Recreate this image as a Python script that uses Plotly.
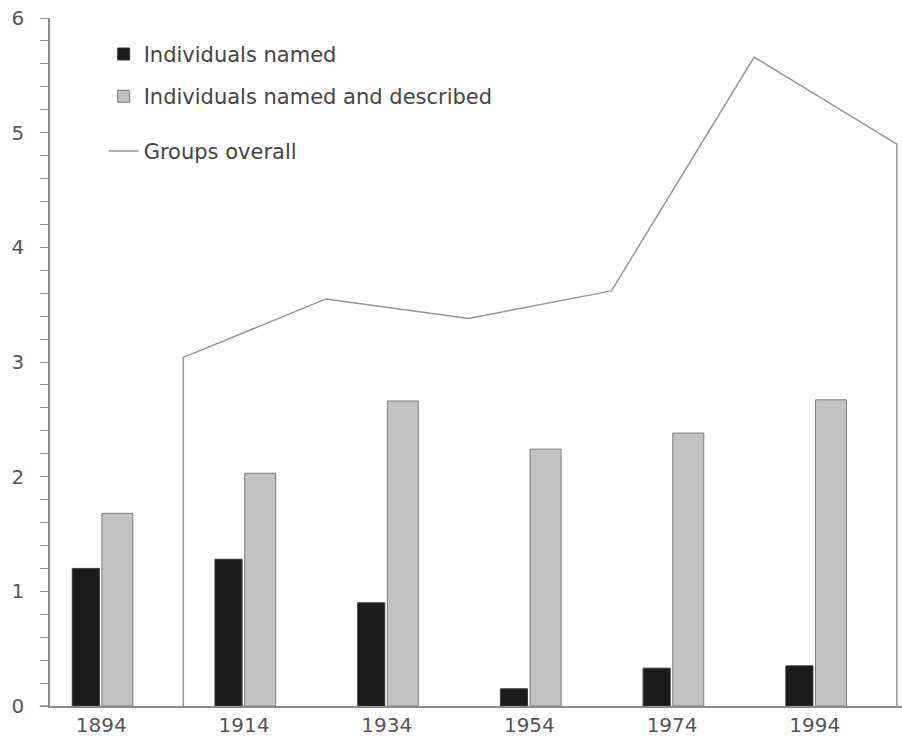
import plotly.graph_objects as go

years = ["1894", "1914", "1934", "1954", "1974", "1994"]
individuals_named = [1.20, 1.28, 0.90, 0.15, 0.33, 0.35]
named_and_described = [1.68, 2.03, 2.66, 2.24, 2.38, 2.67]
groups_overall = [3.04, 3.55, 3.38, 3.62, 5.66, 4.90]

idx = list(range(len(years)))
line_off = 0.575
line_x = [i + line_off for i in idx]
lx = [line_x[0]] + line_x + [line_x[-1]]
ly = [0] + groups_overall + [0]

FONT = "DejaVu Sans"
AX = "#8c8c8c"

fig = go.Figure()
fig.add_trace(go.Bar(
    x=idx, y=individuals_named, name="Individuals named",
    width=0.19, offset=-0.203,
    marker=dict(color="#1b1b1b", line=dict(color="#3a3a3a", width=1)),
    legend="legend", legendgroup="a",
))
fig.add_trace(go.Bar(
    x=idx, y=named_and_described, name="Individuals named and described",
    width=0.217, offset=0.005,
    marker=dict(color="#c2c2c2", line=dict(color="#7a7a7a", width=1)),
    legend="legend", legendgroup="b",
))
fig.add_trace(go.Scatter(
    x=lx, y=ly, mode="lines", name="Groups overall",
    line=dict(color="#959595", width=1.5),
    legend="legend2",
))

fig.update_layout(
    width=902, height=736,
    margin=dict(l=50, r=0, t=18, b=30),
    paper_bgcolor="white", plot_bgcolor="white",
    barmode="overlay",
    font=dict(family=FONT, size=20, color="#555555"),
    legend=dict(
        x=0.063, y=0.977, xanchor="left", yanchor="top",
        font=dict(family=FONT, size=21, color="#444444"),
        tracegroupgap=12, bgcolor="rgba(0,0,0,0)",
    ),
    legend2=dict(
        x=0.063, y=0.836, xanchor="left", yanchor="top",
        font=dict(family=FONT, size=21, color="#444444"),
        bgcolor="rgba(0,0,0,0)",
    ),
    xaxis=dict(
        range=[-0.359, 5.611], tickmode="array", tickvals=idx, ticktext=years,
        showgrid=False, zeroline=False, showline=True, linecolor=AX, linewidth=1.5,
        ticks="", tickfont=dict(size=20, color="#555555"),
    ),
    yaxis=dict(
        range=[0, 6], dtick=1, showgrid=False, zeroline=False,
        showline=True, linecolor=AX, linewidth=1.5,
        ticks="outside", ticklen=8, tickcolor=AX, tickwidth=1.2,
        minor=dict(dtick=0.2, ticks="outside", ticklen=8, tickcolor=AX, tickwidth=1.2),
        tickfont=dict(size=20, color="#555555"), ticklabelstandoff=12,
    ),
    shapes=[dict(type="line", xref="paper", yref="paper", x0=-0.012, x1=0, y0=0, y1=0,
                 line=dict(color=AX, width=1.5))],
)

fig.write_html("out.html", config={"displayModeBar": False},
               post_script="document.body.style.margin='0';document.body.style.overflow='hidden';")
